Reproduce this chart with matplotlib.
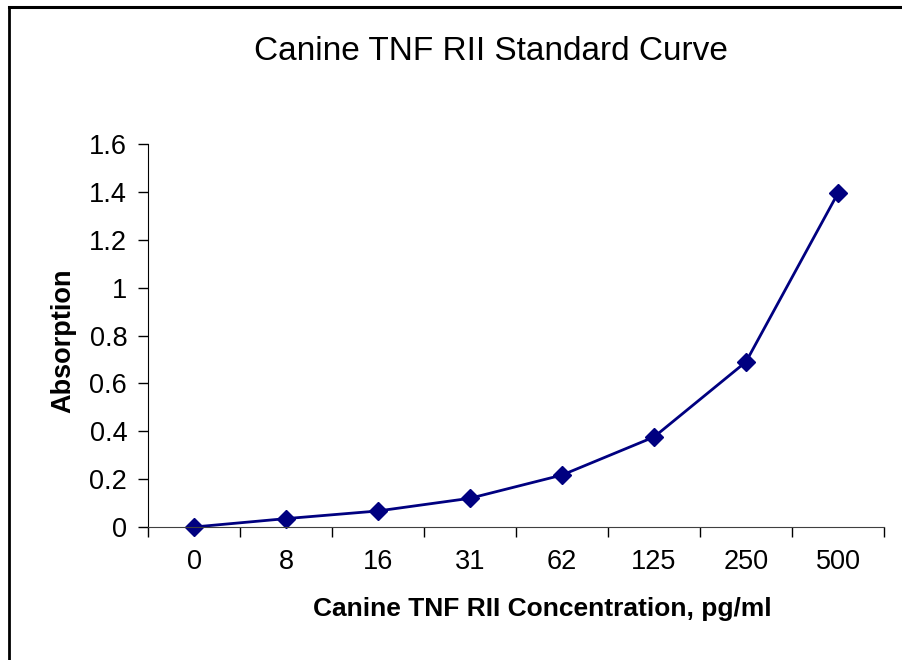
import matplotlib.pyplot as plt
import numpy as np
from matplotlib.lines import Line2D

plt.rcParams['font.family'] = ['Liberation Sans', 'DejaVu Sans']

concentrations = ['0', '8', '16', '31', '62', '125', '250', '500']
absorption = [0.0, 0.035, 0.067, 0.12, 0.217, 0.376, 0.69, 1.395]
y_ticks = [0, 0.2, 0.4, 0.6, 0.8, 1, 1.2, 1.4, 1.6]
y_tick_labels = ['0', '0.2', '0.4', '0.6', '0.8', '1', '1.2', '1.4', '1.6']

W, H = 902, 660
fig = plt.figure(figsize=(W / 100, H / 100), dpi=100)
ax = fig.add_axes([148 / W, 1 - 527 / H, (884 - 148) / W, (527 - 144) / H])

x = np.arange(len(concentrations))
ax.plot(x, absorption, color='#000080', lw=2, marker='D', ms=9.5,
        markerfacecolor='#000080', markeredgecolor='#000080', clip_on=False)

ax.set_xlim(-0.5, len(concentrations) - 0.5)
ax.set_ylim(0, 1.6)
ax.set_yticks(y_ticks)
ax.set_yticklabels(y_tick_labels)
ax.set_xticks(np.arange(len(concentrations) + 1) - 0.5)
ax.set_xticklabels([])
ax.set_xticks(x, minor=True)
ax.set_xticklabels(concentrations, minor=True)
ax.tick_params(axis='x', which='minor', length=0, pad=16, labelsize=19.5)
ax.tick_params(axis='x', which='major', length=7, width=1, direction='out')
ax.tick_params(axis='y', length=7, width=1, direction='out', pad=8, labelsize=19.5)

for s in ['top', 'right']:
    ax.spines[s].set_visible(False)
ax.spines['left'].set_color('black')
ax.spines['bottom'].set_color('#404040')

fig.text(491 / W, 1 - 51 / H, 'Canine TNF RII Standard Curve', ha='center', va='center',
         fontsize=24)
fig.text(63 / W, 1 - 341 / H, 'Absorption', ha='center', va='center', rotation=90,
         fontsize=19.5, fontweight='bold')
fig.text(542 / W, 1 - 609 / H, 'Canine TNF RII Concentration, pg/ml', ha='center',
         va='center', fontsize=19, fontweight='bold')

# outer chart border: only left and top edges fall inside the image
fig.add_artist(Line2D([9 / W, 9 / W], [0, 1 - 7 / H], color='black', lw=2,
                      transform=fig.transFigure))
fig.add_artist(Line2D([9 / W, 1], [1 - 7 / H, 1 - 7 / H], color='black', lw=2.2,
                      transform=fig.transFigure))

fig.savefig('out.png', dpi=100)
